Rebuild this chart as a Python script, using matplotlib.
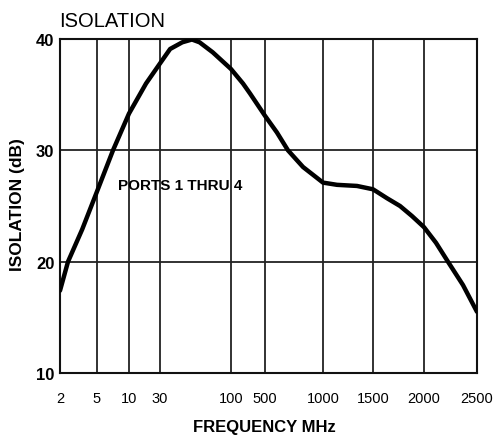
import numpy as np
import matplotlib
matplotlib.use('Agg')
import matplotlib.pyplot as plt

plt.rcParams['font.family'] = ['Liberation Sans', 'DejaVu Sans']

# frequency ticks of the chart (non-uniform axis)
tick_freqs = [2, 5, 10, 30, 100, 500, 1000, 1500, 2000, 2500]
tick_labels = ['2', '5', '10', '30', '100', '500', '1000', '1500', '2000', '2500']

# isolation curve (MHz, dB)
freq = [2, 2.65, 3.8, 5, 7.5, 10, 21, 30, 40, 52, 61.5, 69, 82, 100, 241,
        324, 500, 603, 698, 828, 1000, 1140, 1340, 1500, 1637, 1765, 1882,
        2000, 2113, 2226, 2368, 2500]
isol = [17.4, 20.0, 22.9, 26.3, 30.0, 33.3, 36.0, 37.8, 39.1, 39.7, 39.95,
        39.7, 38.8, 37.3, 36.0, 35.1, 33.1, 31.6, 30.0, 28.5, 27.1, 26.9,
        26.8, 26.5, 25.7, 25.0, 24.1, 23.1, 21.7, 20.0, 17.9, 15.5]

# where each tick sits along the axis (layout of the printed grid)
axis_pos = np.array([0, 37, 69, 100, 171, 205, 263, 313, 364, 417], dtype=float)


def fwd(f):
    return np.interp(f, tick_freqs, axis_pos)


def inv(p):
    return np.interp(p, axis_pos, tick_freqs)


fig = plt.figure(figsize=(4.93, 4.39), dpi=100)
ax = fig.add_axes([0.1217, 0.148, 0.8458, 0.761])
ax.set_xscale('function', functions=(fwd, inv))
ax.set_xlim(2, 2500)
ax.set_ylim(10, 40)

ax.set_xticks(tick_freqs)
ax.set_xticklabels(tick_labels)
ax.set_yticks([10, 20, 30, 40])
ax.tick_params(length=0)
ax.tick_params(axis='x', pad=13, labelsize=10.5)
ax.tick_params(axis='y', pad=4, labelsize=12)
for lbl in ax.get_yticklabels():
    lbl.set_fontweight('bold')

ax.grid(True, color='#222222', linewidth=1.3)
for s in ax.spines.values():
    s.set_linewidth(1.5)
    s.set_color('#111111')

ax.plot(freq, isol, color='black', linewidth=3.2, solid_capstyle='round',
        solid_joinstyle='round', zorder=3)

ax.text(8.3, 26.9, 'PORTS 1 THRU 4', fontsize=11, fontweight='bold', va='center')

fig.text(0.12, 0.952, 'ISOLATION', fontsize=14.5, ha='left', va='center')
fig.text(0.536, 0.027, 'FREQUENCY MHz', fontsize=12, fontweight='bold',
         ha='center', va='center')
fig.text(0.036, 0.535, 'ISOLATION (dB)', fontsize=12.5, fontweight='bold',
         rotation=90, ha='center', va='center')

fig.savefig('out.png', dpi=100)
